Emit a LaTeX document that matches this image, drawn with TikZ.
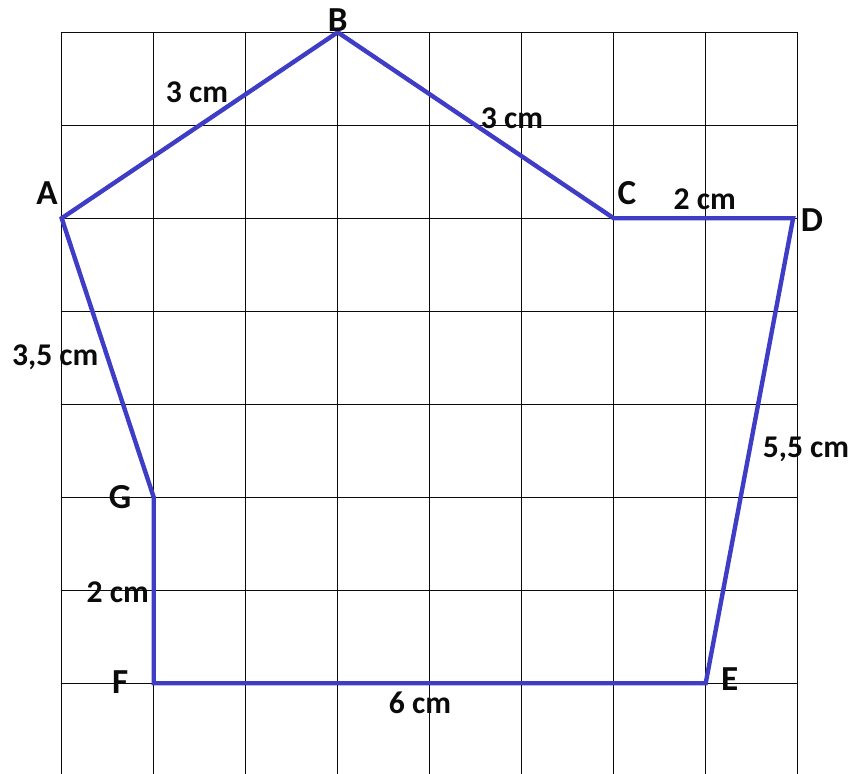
\documentclass[tikz,border=0pt]{standalone}
\usepackage{fontspec}
\setmainfont{Carlito}
\usepackage{tikz}
\usetikzlibrary{positioning}
\definecolor{pgside}{HTML}{3F3CC6}
\definecolor{pgink}{HTML}{0B0B0B}
\tikzset{
  gridl/.style={draw=pgink,line width=0.35pt},
  side/.style={draw=pgside,line width=1.25pt,line join=miter},
  vlab/.style={font=\fontsize{10}{11}\selectfont\bfseries,text=pgink,inner sep=0pt},
  mlab/.style={font=\fontsize{9}{10}\selectfont\bfseries,text=pgink,inner sep=0pt},
}

\begin{document}
\begin{tikzpicture}[x=0.92cm,y=0.93cm]
  \useasboundingbox (-0.6707,-0.975) rectangle (8.612,7.347);

  % ---------- squared paper ----------
  \foreach \i in {0,...,8}
    {\draw[gridl] (\i,-0.975) -- (\i,7);}
  \foreach \j in {0,...,7}
    {\draw[gridl] (0,\j) -- (8,\j);}

  % ---------- corners ----------
  \coordinate (A) at (0,5);
  \coordinate (B) at (3,7);
  \coordinate (C) at (6,5);
  \coordinate (D) at (7.95,5);
  \coordinate (E) at (7,0);
  \coordinate (F) at (1,0);
  \coordinate (G) at (1,2);

  % ---------- polygon ----------
  \draw[side] (A) -- (B) -- (C) -- (D) -- (E) -- (F) -- (G) -- cycle;

  % ---------- corner names ----------
  \node[vlab] (nA) at (-0.16,5.27) {A};
  \node[vlab] (nB) at (3.0,7.13) {B};
  \node[vlab] (nC) at (6.145,5.27) {C};
  \node[vlab] (nD) at (8.155,4.98) {D};
  \node[vlab] (nE) at (7.26,0.04) {E};
  \node[vlab] (nF) at (0.635,0.01) {F};
  \node[vlab] (nG) at (0.635,2.0) {G};

  % ---------- side lengths ----------
  \node[mlab] (lAB) at (1.47,6.35) {3 cm};
  \node[mlab] (lBC) at (4.895,6.08) {3 cm};
  \node[mlab] (lCD) at (6.99,5.20) {2 cm};
  \node[mlab] (lDE) at (8.09,2.51) {5,5 cm};
  \node[mlab] (lEF) at (3.895,-0.21) {6 cm};
  \node[mlab] (lFG) at (0.61,0.98) {2 cm};
  \node[mlab] (lGA) at (-0.07,3.50) {3,5 cm};
\end{tikzpicture}
\end{document}
